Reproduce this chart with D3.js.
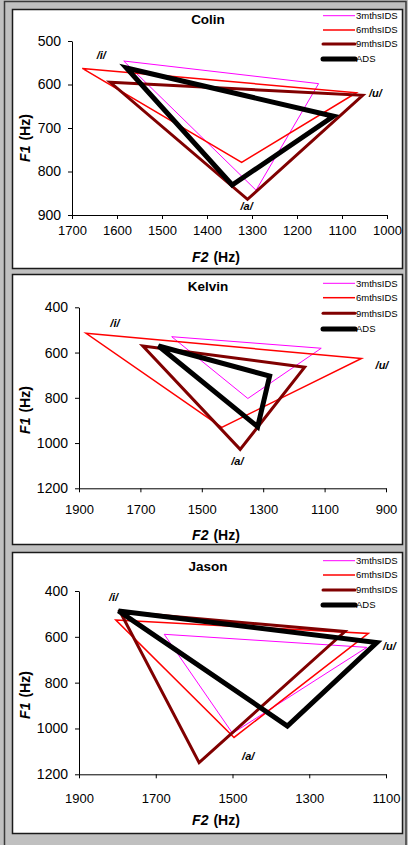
<!DOCTYPE html>
<html>
<head>
<meta charset="utf-8">
<script src="https://cdn.jsdelivr.net/npm/d3@7"></script>
<style>
  body { margin: 0; padding: 0; background: #c0c0c0; }
  svg { display: block; font-family: "Liberation Sans", Arial, sans-serif; }
</style>
</head>
<body>
<svg id="chart" width="408" height="845"></svg>
<script>
// ---------- DATA ----------
const speakers = ["Colin", "Kelvin", "Jason"];
const seriesNames = ["3mthsIDS", "6mthsIDS", "9mthsIDS", "ADS"];
const vowels = ["/i/", "/u/", "/a/"];

// F2 / F1 per series, vowels in order /i/, /u/, /a/
const colinF2 = [[1585, 1152, 1291], [1677, 1068, 1323], [1615, 1054, 1310], [1579, 1119, 1344]];
const colinF1 = [[546, 598, 843], [563, 619, 779], [595, 625, 864], [562, 673, 831]];
const kelvinF2 = [[1598, 1111, 1350], [1877, 980, 1435], [1692, 1165, 1375], [1641, 1279, 1318]];
const kelvinF1 = [[530, 581, 803], [515, 626, 931], [571, 665, 1028], [571, 704, 928]];
const jasonF2 = [[1678, 1150, 1500], [1804, 1146, 1496], [1793, 1207, 1587], [1797, 1124, 1357]];
const jasonF1 = [[589, 646, 1021], [527, 585, 1039], [490, 577, 1149], [487, 625, 989]];

// vowel label anchor points (F2, F1)
const colinLabelF2 = [1635, 1026, 1312];
const colinLabelF1 = [533, 619, 879];
const kelvinLabelF2 = [1783, 913, 1384];
const kelvinLabelF1 = [468, 655, 1078];
const jasonLabelF2 = [1810, 1091, 1459];
const jasonLabelF1 = [425, 640, 1120];

// axis ticks
const colinXTicks = [1700, 1600, 1500, 1400, 1300, 1200, 1100, 1000];
const colinYTicks = [500, 600, 700, 800, 900];
const kelvinXTicks = [1900, 1700, 1500, 1300, 1100, 900];
const kelvinYTicks = [400, 600, 800, 1000, 1200];
const jasonXTicks = [1900, 1700, 1500, 1300, 1100];
const jasonYTicks = [400, 600, 800, 1000, 1200];

// ---------- STYLE / LAYOUT ----------
const seriesColors = ["#ff00ff", "#ff0000", "#800000", "#000000"];
const seriesWidths = [1, 1.5, 3, 5];

const layouts = [
  { box: [12, 9, 402, 268], plot: [72, 41, 387, 215], titleY: 19, legendY: [15.7, 30, 44, 59], xLabY: 257, yLabY: 138, xTickDy: 15 },
  { box: [12, 274, 402, 544], plot: [79, 307.3, 386, 488.3], titleY: 286, legendY: [283.3, 297.7, 313.3, 329], xLabY: 535, yLabY: 410, xTickDy: 21 },
  { box: [12, 552, 402, 833], plot: [79, 591, 386, 774.3], titleY: 566, legendY: [560.7, 575, 590, 605], xLabY: 820, yLabY: 695, xTickDy: 24 }
];

const panels = [
  { name: speakers[0], f2: colinF2, f1: colinF1, lf2: colinLabelF2, lf1: colinLabelF1, xt: colinXTicks, yt: colinYTicks },
  { name: speakers[1], f2: kelvinF2, f1: kelvinF1, lf2: kelvinLabelF2, lf1: kelvinLabelF1, xt: kelvinXTicks, yt: kelvinYTicks },
  { name: speakers[2], f2: jasonF2, f1: jasonF1, lf2: jasonLabelF2, lf1: jasonLabelF1, xt: jasonXTicks, yt: jasonYTicks }
];

const svg = d3.select("#chart");
svg.append("rect").attr("x", 0).attr("y", 0).attr("width", 408).attr("height", 845).attr("fill", "#c0c0c0");
svg.append("rect").attr("x", 4.5).attr("y", 1.5).attr("width", 401.5).attr("height", 860)
  .attr("fill", "none").attr("stroke", "#3a3a3a").attr("stroke-width", 1.5);

panels.forEach((p, pi) => {
  const L = layouts[pi];
  const g = svg.append("g");
  g.append("rect")
    .attr("x", L.box[0] + 0.5).attr("y", L.box[1] + 0.5)
    .attr("width", L.box[2] - L.box[0]).attr("height", L.box[3] - L.box[1])
    .attr("fill", "#ffffff").attr("stroke", "#1a1a1a").attr("stroke-width", 1.5);

  const xs = d3.scaleLinear()
    .domain([p.xt[0], p.xt[p.xt.length - 1]])
    .range([L.plot[0], L.plot[2]]);
  const ys = d3.scaleLinear()
    .domain([p.yt[0], p.yt[p.yt.length - 1]])
    .range([L.plot[1], L.plot[3]]);

  // axes
  const xAxis = g.append("g").attr("transform", `translate(0,${L.plot[3]})`)
    .call(d3.axisBottom(xs).tickValues(p.xt).tickSize(4).tickSizeOuter(0).tickFormat(d3.format("d")));
  xAxis.selectAll("text").attr("y", L.xTickDy).attr("dy", "0.35em")
    .attr("font-size", 13).attr("fill", "#000").attr("font-family", "Liberation Sans, Arial, sans-serif");
  const yAxis = g.append("g").attr("transform", `translate(${L.plot[0]},0)`)
    .call(d3.axisLeft(ys).tickValues(p.yt).tickSize(4).tickPadding(7).tickSizeOuter(0).tickFormat(d3.format("d")));
  yAxis.selectAll("text").attr("font-size", 14).attr("fill", "#000").attr("font-family", "Liberation Sans, Arial, sans-serif");
  [xAxis, yAxis].forEach(a => {
    a.selectAll("path,line").attr("stroke", "#000").attr("stroke-width", 1);
  });

  // triangles
  const line = d3.line().x(d => xs(d[0])).y(d => ys(d[1]));
  seriesNames.forEach((s, si) => {
    const pts = vowels.map((v, vi) => [p.f2[si][vi], p.f1[si][vi]]);
    g.append("path")
      .attr("d", line(pts) + "Z")
      .attr("fill", "none")
      .attr("stroke", seriesColors[si])
      .attr("stroke-width", seriesWidths[si])
      .attr("stroke-linejoin", "miter");
  });

  // vowel labels
  vowels.forEach((v, vi) => {
    g.append("text")
      .attr("x", xs(p.lf2[vi])).attr("y", ys(p.lf1[vi]))
      .attr("dy", "0.35em").attr("text-anchor", "middle")
      .attr("font-size", 11).attr("font-weight", "bold").attr("font-style", "italic")
      .attr("fill", "#000").text(v);
  });

  // title
  g.append("text").attr("x", 208).attr("y", L.titleY).attr("dy", "0.35em")
    .attr("text-anchor", "middle").attr("font-size", 13.5).attr("font-weight", "bold").text(p.name);

  // x label
  const xl = g.append("text").attr("x", 216).attr("y", L.xLabY).attr("dy", "0.35em")
    .attr("text-anchor", "middle").attr("font-size", 14).attr("font-weight", "bold");
  xl.append("tspan").attr("font-style", "italic").text("F2");
  xl.append("tspan").attr("dx", 5).text("(Hz)");

  // y label
  const yl = g.append("text").attr("transform", `translate(25,${L.yLabY}) rotate(-90)`)
    .attr("dy", "0.35em").attr("text-anchor", "middle").attr("font-size", 14).attr("font-weight", "bold");
  yl.append("tspan").attr("font-style", "italic").text("F1");
  yl.append("tspan").attr("dx", 5).text("(Hz)");

  // legend
  seriesNames.forEach((s, si) => {
    const ly = L.legendY[si];
    g.append("line").attr("x1", 323).attr("x2", 355).attr("y1", ly).attr("y2", ly)
      .attr("stroke", seriesColors[si]).attr("stroke-width", seriesWidths[si])
      .attr("stroke-linecap", si >= 2 ? "round" : "butt");
    g.append("text").attr("x", 356).attr("y", ly).attr("dy", "0.35em")
      .attr("font-size", 9.5).attr("fill", "#000").text(s);
  });
});
</script>
</body>
</html>
